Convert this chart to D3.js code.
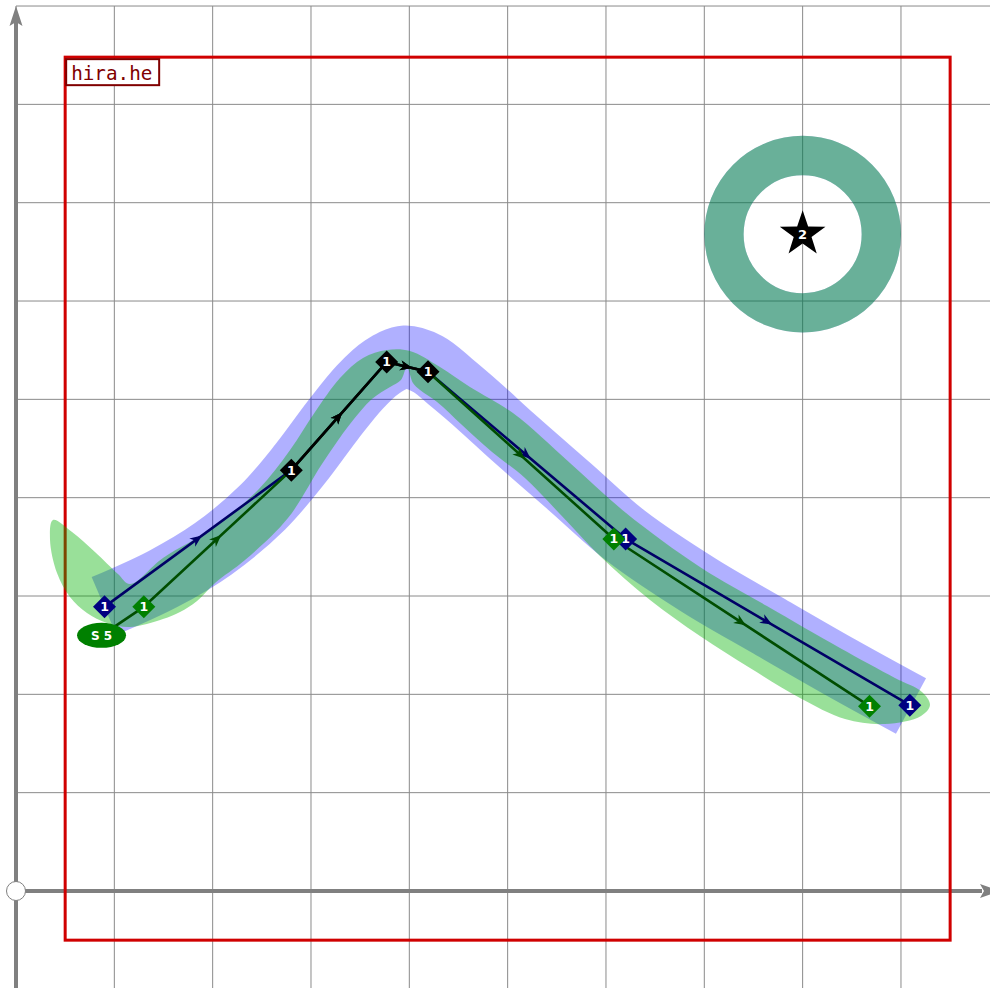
<!DOCTYPE html>
<html><head><meta charset="utf-8">
<script src="https://cdn.jsdelivr.net/npm/d3@7"></script>
<style>body{margin:0;background:#fff}svg{display:block}</style>
</head><body>
<svg id="c" width="990" height="988"></svg>
<script>
// ---------- data (chart units) ----------
const gridX = [0,1,2,3,4,5,6,7,8,9,10];
const gridY = [1,2,3,4,5,6,7,8,9];
const frame = [[0.5,-0.5],[9.5,8.48]];
const titleText = "hira.he";
const bluePath  = [[0.9,2.89],[2.8,4.28],[3.77,5.38],[4.19,5.28],[6.2,3.58],[9.09,1.89]];
const greenPath = [[0.87,2.6],[1.3,2.89],[2.8,4.28],[3.77,5.38],[4.19,5.28],[6.08,3.58],[8.68,1.88]];
const sharedPath = [[2.8,4.28],[3.77,5.38],[4.19,5.28]];
const blueDiamonds  = [[0.9,2.89],[6.2,3.58],[9.09,1.89]];
const greenDiamonds = [[1.3,2.89],[6.08,3.58],[8.68,1.88]];
const blackDiamonds = [[2.8,4.28],[3.77,5.38],[4.19,5.28]];
const diamondLabel = "1";
const unitLabel = {pos:[0.87,2.6], text:"S 5"};
const blueBand = [[0.895,2.898],[1.495,3.173],[2.003,3.478],[2.512,3.905],[2.888,4.342],[3.224,4.79],[3.498,5.126],[3.722,5.329],[3.956,5.431],[4.19,5.359],[4.434,5.166],[4.719,4.922],[5.054,4.617],[5.634,4.109],[6.204,3.61],[6.956,3.102],[7.637,2.705],[8.38,2.278],[9.102,1.881]];
const greenArea = [[0.376,3.773],[0.57,3.651],[0.803,3.448],[1.037,3.224],[1.159,3.122],[1.495,3.387],[2.003,3.692],[2.461,4.078],[2.787,4.485],[3.041,4.871],[3.295,5.217],[3.529,5.421],[3.773,5.502],[4.007,5.492],[4.312,5.329],[4.617,5.126],[5.054,4.861],[5.634,4.353],[6.204,3.844],[6.956,3.295],[7.637,2.898],[8.38,2.471],[8.939,2.166],[9.214,2.024],[9.295,1.892],[9.204,1.78],[8.838,1.698],[8.431,1.749],[7.973,1.963],[7.465,2.268],[6.956,2.593],[6.448,2.959],[5.939,3.407],[5.532,3.834],[5.176,4.2],[4.841,4.465],[4.536,4.739],[4.282,4.973],[4.109,5.095],[4.037,5.166],[3.976,5.329],[3.915,5.197],[3.804,5.126],[3.62,5.004],[3.397,4.749],[3.112,4.342],[2.766,3.793],[2.329,3.366],[2.024,3.132],[1.841,2.949],[1.668,2.837],[1.495,2.766],[1.159,2.685],[0.925,2.726],[0.722,2.827],[0.549,2.99],[0.417,3.234],[0.346,3.57]];
const ring = {center:[8.0,6.68], rOuter:1.0, rInner:0.6};
const star = {center:[8.0,6.68], text:"2"};

// ---------- drawing ----------
const W=990, H=988, U=98.33;
const sx = d3.scaleLinear().domain([0,10]).range([16,16+10*U]);
const sy = d3.scaleLinear().domain([0,9]).range([891,891-9*U]);
const svg = d3.select('#c');

// grid
const g = svg.append('g');
g.selectAll('line.gx').data(gridX).join('line').attr('class','gx')
 .attr('x1',d=>sx(d)).attr('x2',d=>sx(d)).attr('y1',sy(9)).attr('y2',H)
 .attr('stroke','#8a8a8a').attr('stroke-width',1);
g.selectAll('line.gy').data(gridY).join('line').attr('class','gy')
 .attr('x1',sx(0)).attr('x2',W).attr('y1',d=>sy(d)).attr('y2',d=>sy(d))
 .attr('stroke','#8a8a8a').attr('stroke-width',1);

// axes
const axisCol = '#808080';
svg.append('line').attr('x1',sx(0)).attr('x2',W-8).attr('y1',sy(0)).attr('y2',sy(0))
  .attr('stroke',axisCol).attr('stroke-width',4);
svg.append('line').attr('x1',sx(0)).attr('x2',sx(0)).attr('y1',H).attr('y2',sy(9)+12)
  .attr('stroke',axisCol).attr('stroke-width',4);
const ox=sx(0), oy=sy(0);
svg.append('path').attr('d',`M${W+10},${oy} L${W-10},${oy-7} L${W-6},${oy} L${W-10},${oy+7} Z`).attr('fill',axisCol);
const ty=sy(9);
svg.append('path').attr('d',`M${ox},${ty} L${ox-6.5},${ty+20} L${ox},${ty+16} L${ox+6.5},${ty+20} Z`).attr('fill',axisCol);
svg.append('circle').attr('cx',ox).attr('cy',oy).attr('r',9.5).attr('fill','#fff').attr('stroke','#808080').attr('stroke-width',1);

// red frame
svg.append('rect').attr('x',sx(frame[0][0])).attr('y',sy(frame[1][1]))
 .attr('width',sx(frame[1][0])-sx(frame[0][0])).attr('height',sy(frame[0][1])-sy(frame[1][1]))
 .attr('fill','none').attr('stroke','#d00000').attr('stroke-width',3);

// title box
const tb = svg.append('g');
const tx = sx(frame[0][0])+1, tyy = sy(frame[1][1])+2;
tb.append('rect').attr('x',tx).attr('y',tyy).attr('width',93).attr('height',26)
  .attr('fill','#fff').attr('stroke','#800000').attr('stroke-width',2);
tb.append('text').attr('x',tx+5).attr('y',tyy+21).text(titleText)
  .attr('font-family','DejaVu Sans Mono').attr('font-size',19.3).attr('fill','#800000');

// blue band
const BLUE='rgb(0,0,255)', BLUEOP=0.31, GREEN='rgb(0,178,0)', GREENOP=0.4;
const lineC = d3.line().x(d=>sx(d[0])).y(d=>sy(d[1])).curve(d3.curveCatmullRom.alpha(0.5));
svg.append('path').attr('d',lineC(blueBand)).attr('fill','none')
  .attr('stroke',BLUE).attr('stroke-opacity',BLUEOP).attr('stroke-width',63)
  .attr('stroke-linecap','butt').attr('stroke-linejoin','round');
// green area
const areaC = d3.line().x(d=>sx(d[0])).y(d=>sy(d[1])).curve(d3.curveCatmullRomClosed.alpha(0.5));
svg.append('path').attr('d',areaC(greenArea)).attr('fill',GREEN).attr('fill-opacity',GREENOP);

// ring
const rcx=sx(ring.center[0]), rcy=sy(ring.center[1]);
const rMid=(ring.rOuter+ring.rInner)/2*U, rW=(ring.rOuter-ring.rInner)*U;
svg.append('circle').attr('cx',rcx).attr('cy',rcy).attr('r',rMid).attr('fill','none')
  .attr('stroke',BLUE).attr('stroke-opacity',BLUEOP).attr('stroke-width',rW);
svg.append('circle').attr('cx',rcx).attr('cy',rcy).attr('r',rMid).attr('fill','none')
  .attr('stroke',GREEN).attr('stroke-opacity',GREENOP).attr('stroke-width',rW);

// paths with mid arrows
const lineL = d3.line().x(d=>sx(d[0])).y(d=>sy(d[1]));
function drawPath(pts, col, skipFirstArrow){
  svg.append('path').attr('d',lineL(pts)).attr('fill','none').attr('stroke',col)
    .attr('stroke-width',2.6).attr('stroke-linejoin','round');
  const segs = d3.pairs(pts).filter((s,i)=>!(skipFirstArrow && i===0));
  svg.append('g').selectAll('path').data(segs).join('path')
    .attr('d','M5,0 L-7,-5 L-3.5,0 L-7,5 Z').attr('fill',col)
    .attr('transform',s=>{
      const x1=sx(s[0][0]),y1=sy(s[0][1]),x2=sx(s[1][0]),y2=sy(s[1][1]);
      const a=Math.atan2(y2-y1,x2-x1)*180/Math.PI;
      return `translate(${(x1+x2)/2},${(y1+y2)/2}) rotate(${a})`;
    });
}
drawPath(bluePath,'#000066',false);
drawPath(greenPath,'#004d00',true);
drawPath(sharedPath,'#000000',false);

// unit ellipse
svg.append('ellipse').attr('cx',sx(unitLabel.pos[0])).attr('cy',sy(unitLabel.pos[1]))
  .attr('rx',24.5).attr('ry',12.5).attr('fill','#008000');
svg.append('text').attr('x',sx(unitLabel.pos[0])).attr('y',sy(unitLabel.pos[1])+4.5)
  .attr('text-anchor','middle').attr('font-family','DejaVu Sans').attr('font-weight','bold')
  .attr('font-size',12).attr('fill','#fff').text(unitLabel.text);

// diamonds
function diamonds(pts,col){
  const gg = svg.append('g').selectAll('g').data(pts).join('g')
    .attr('transform',d=>`translate(${sx(d[0])},${sy(d[1])})`);
  gg.append('path').attr('d','M0,-11.5L11.5,0L0,11.5L-11.5,0Z').attr('fill',col);
  gg.append('text').attr('y',4.5).attr('text-anchor','middle').attr('font-family','DejaVu Sans')
    .attr('font-weight','bold').attr('font-size',12.5).attr('fill','#fff').text(diamondLabel);
}
diamonds(blueDiamonds,'#000080');
diamonds(greenDiamonds,'#008000');
diamonds(blackDiamonds,'#000000');

// star
function starPath(R){
  const r=R*0.39; let p=[];
  for(let i=0;i<10;i++){const a=-Math.PI/2+i*Math.PI/5; const rr=i%2?r:R; p.push([rr*Math.cos(a),rr*Math.sin(a)]);}
  return 'M'+p.map(q=>q.join(',')).join('L')+'Z';
}
const sg = svg.append('g').attr('transform',`translate(${sx(star.center[0])},${sy(star.center[1])})`);
sg.append('path').attr('d',starPath(24)).attr('fill','#000');
sg.append('text').attr('y',5).attr('text-anchor','middle').attr('font-family','DejaVu Sans')
  .attr('font-weight','bold').attr('font-size',13).attr('fill','#fff').text(star.text);
</script>
</body></html>
